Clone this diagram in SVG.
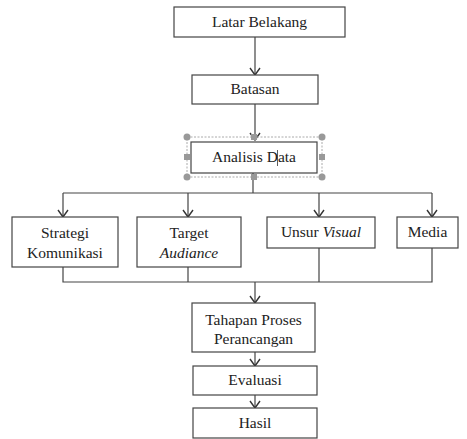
<svg xmlns="http://www.w3.org/2000/svg" width="467" height="439" viewBox="0 0 467 439">
<style>
.box{fill:#fff;stroke:#444;stroke-width:1.2}
text{font-size:15.5px;fill:#222;text-anchor:middle}
.i{font-style:italic}
.c{fill:none;stroke:#444;stroke-width:1.2}
.h{fill:#999;stroke:none}
</style>
<defs>
<marker id="ah" markerWidth="12" markerHeight="12" refX="9" refY="6" orient="auto" markerUnits="userSpaceOnUse" viewBox="0 0 12 12">
<path d="M2,1 L9,6 L2,11" fill="none" stroke="#333" stroke-width="1.4"/>
</marker>
</defs>
<rect width="467" height="439" fill="#fff"/>
<g id="connectors">
<line class="c" x1="255" y1="37" x2="255" y2="75" marker-end="url(#ah)"/>
<line class="c" x1="255" y1="104" x2="255" y2="140" marker-end="url(#ah)"/>
<polyline class="c" points="253,173 253,193"/>
<polyline class="c" points="63,193 432,193"/>
<line class="c" x1="63" y1="193" x2="63" y2="217" marker-end="url(#ah)"/>
<line class="c" x1="188" y1="193" x2="188" y2="217" marker-end="url(#ah)"/>
<line class="c" x1="319" y1="193" x2="319" y2="217" marker-end="url(#ah)"/>
<line class="c" x1="432" y1="193" x2="432" y2="217" marker-end="url(#ah)"/>
<polyline class="c" points="63,267 63,282 432,282 432,248"/>
<line class="c" x1="188" y1="267" x2="188" y2="282"/>
<line class="c" x1="319" y1="248" x2="319" y2="282"/>
<line class="c" x1="255" y1="282" x2="255" y2="303" marker-end="url(#ah)"/>
<line class="c" x1="255" y1="352" x2="255" y2="366" marker-end="url(#ah)"/>
<line class="c" x1="255" y1="395" x2="255" y2="408" marker-end="url(#ah)"/>
</g>
<g font-family="'Liberation Serif', 'Times New Roman', serif">
<g id="latar">
<rect class="box" x="174" y="7" width="171" height="30"/>
<text x="259.5" y="27">Latar Belakang</text>
</g>
<g id="batasan">
<rect class="box" x="192" y="75" width="126" height="29"/>
<text x="255" y="94">Batasan</text>
</g>
<g id="analisis">
<rect x="187" y="137" width="135" height="40" fill="none" stroke="#aaa" stroke-width="1" stroke-dasharray="2,1.5"/>
<rect class="box" x="191" y="142" width="126" height="31"/>
<text x="254" y="162">Analisis Data</text>
<line x1="277.5" y1="150" x2="277.5" y2="166" stroke="#333" stroke-width="0.8"/>
<circle class="h" cx="187" cy="137" r="3.5"/>
<circle class="h" cx="322" cy="137" r="3.5"/>
<circle class="h" cx="187" cy="177" r="3.5"/>
<circle class="h" cx="322" cy="177" r="3.5"/>
<rect class="h" x="251" y="134" width="6" height="6"/>
<rect class="h" x="251" y="174" width="6" height="6"/>
<rect class="h" x="184" y="154" width="6" height="6"/>
<rect class="h" x="319" y="154" width="6" height="6"/>
</g>
<g id="strategi">
<rect class="box" x="12" y="217" width="106" height="50"/>
<text x="65" y="238">Strategi</text>
<text x="65" y="258">Komunikasi</text>
</g>
<g id="target">
<rect class="box" x="137" y="217" width="104" height="50"/>
<text x="189" y="238">Target</text>
<text class="i" x="189" y="258">Audiance</text>
</g>
<g id="unsur">
<rect class="box" x="267" y="217" width="108" height="31"/>
<text x="321" y="237">Unsur <tspan class="i">Visual</tspan></text>
</g>
<g id="media">
<rect class="box" x="397" y="217" width="61" height="31"/>
<text x="427.5" y="237">Media</text>
</g>
<g id="tahapan">
<rect class="box" x="192" y="303" width="123" height="49"/>
<text x="253.5" y="325">Tahapan Proses</text>
<text x="253.5" y="344">Perancangan</text>
</g>
<g id="evaluasi">
<rect class="box" x="193" y="366" width="124" height="29"/>
<text x="255" y="385">Evaluasi</text>
</g>
<g id="hasil">
<rect class="box" x="193" y="408" width="124" height="30"/>
<text x="255" y="428">Hasil</text>
</g>
</g>
</svg>
